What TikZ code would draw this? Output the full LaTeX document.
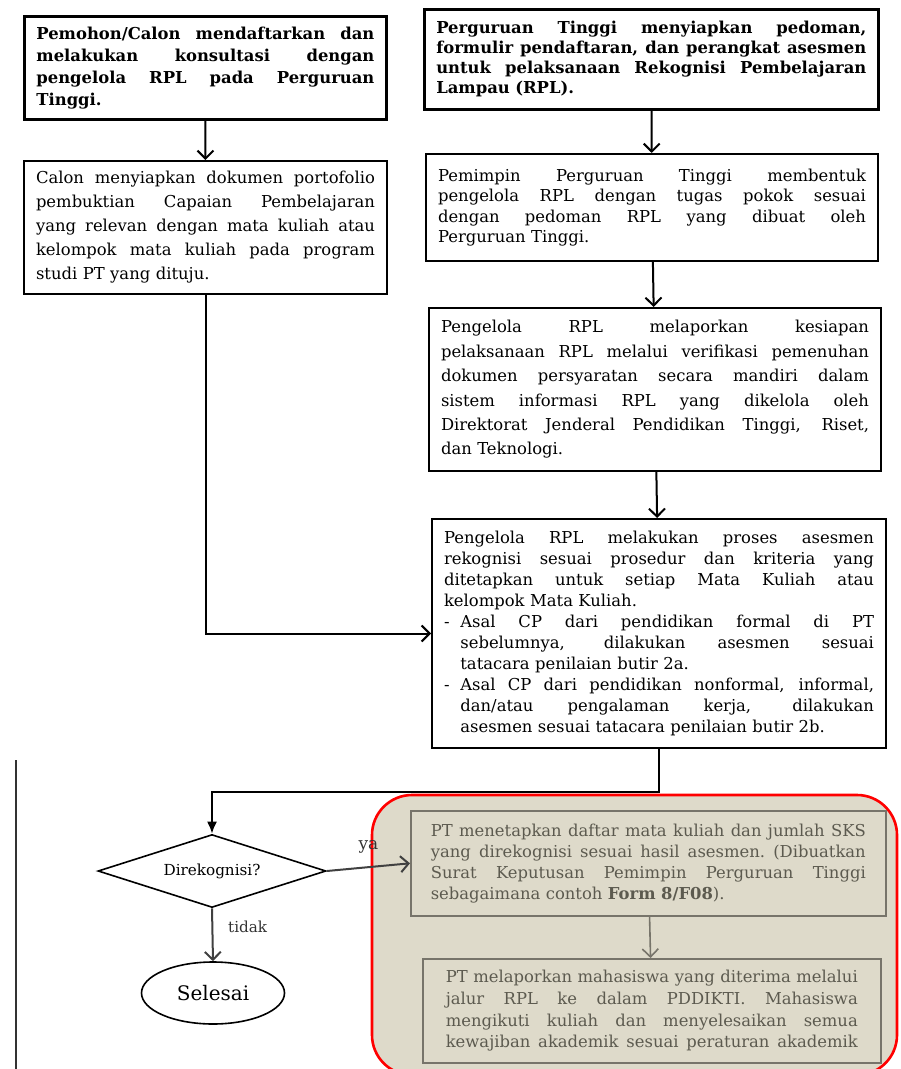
\documentclass[tikz,border=0pt]{standalone}
\usepackage{fontspec}
\setmainfont{DejaVu Serif}
\usepackage{tikz}
\usetikzlibrary{arrows.meta,positioning,shapes.geometric}
\usepackage{xcolor}
\definecolor{scanBeige}{HTML}{DEDACA}
\definecolor{scanInk}{HTML}{5C5A4F}
\definecolor{scanRule}{HTML}{77746A}
% one justified line, and one line of a dashed item
\newlength{\rowwidth}
\newcommand{\jl}[1]{{\spaceskip=0.32em plus 1fil minus 0.12em\relax\makebox[\rowwidth][s]{#1}}}
\newcommand{\dl}[2]{{\spaceskip=0.32em plus 1fil minus 0.12em\relax\makebox[1em][l]{#1}\makebox[\dimexpr\rowwidth-1em\relax][s]{#2}}}

\begin{document}
\begin{tikzpicture}[x=0.5pt, y=-0.5pt,
    every node/.style={font=\fontsize{7.6}{10}\selectfont},
    leading/.style={font=\fontsize{8.2}{#1}\selectfont},
    boldLeading/.style={font=\fontsize{8.2}{#1}\selectfont\bfseries},
    textcol/.style={text width=#1, /utils/exec={\setlength{\rowwidth}{#1}}},
    stepbox/.style={draw, line width=1pt, align=left, anchor=north west, inner xsep=6pt, inner ysep=2pt},
    paleBox/.style={stepbox, draw=scanRule, fill=scanBeige, text=scanInk, line width=0.8pt},
    flowArrow/.style={-{Straight Barb[length=4pt,width=8pt]}, line width=1pt}]

\useasboundingbox (0,0) rectangle (900,1069);
\clip (0,0) rectangle (900,1069);

% page edge and highlighted panel
\draw[line width=0.8pt, black!80] (16,760) -- (16,1069);
\draw[red, line width=1.3pt, rounded corners=20pt, fill=scanBeige] (372,795) rectangle (897,1075);

% left column
\node[stepbox, boldLeading=10.9, line width=1.4pt, textcol=169pt, minimum height=51.5pt] (regist) at (23,15) {%
\jl{Pemohon/Calon mendaftarkan dan}\\
\jl{melakukan konsultasi dengan}\\
\jl{pengelola RPL pada Perguruan}\\
Tinggi.};

\node[stepbox, leading=12, textcol=169.5pt, minimum height=66.5pt] (portfolio) at (23,160) {%
\jl{Calon menyiapkan dokumen portofolio}\\
\jl{pembuktian Capaian Pembelajaran}\\
\jl{yang relevan dengan mata kuliah atau}\\
\jl{kelompok mata kuliah pada program}\\
studi PT yang dituju.};

% right column
\node[stepbox, boldLeading=10, line width=1.3pt, textcol=215pt, minimum height=50pt] (guide) at (423,8) {%
\jl{Perguruan Tinggi menyiapkan pedoman,}\\
\jl{formulir pendaftaran, dan perangkat asesmen}\\
\jl{untuk pelaksanaan Rekognisi Pembelajaran}\\
Lampau (RPL).};

\node[stepbox, leading=10.3, textcol=214pt, minimum height=53.5pt] (manager) at (425,153) {%
\jl{Pemimpin Perguruan Tinggi membentuk}\\
\jl{pengelola RPL dengan tugas pokok sesuai}\\
\jl{dengan pedoman RPL yang dibuat oleh}\\
Perguruan Tinggi.};

\node[stepbox, leading=12.2, textcol=214pt, minimum height=81.5pt] (report) at (428,307) {%
\jl{Pengelola RPL melaporkan kesiapan}\\
\jl{pelaksanaan RPL melalui verifikasi pemenuhan}\\
\jl{dokumen persyaratan secara mandiri dalam}\\
\jl{sistem informasi RPL yang dikelola oleh}\\
\jl{Direktorat Jenderal Pendidikan Tinggi, Riset,}\\
dan Teknologi.};

\node[stepbox, leading=10.5, textcol=215pt, minimum height=114.5pt] (assess) at (431,518) {%
\jl{Pengelola RPL melakukan proses asesmen}\\
\jl{rekognisi sesuai prosedur dan kriteria yang}\\
\jl{ditetapkan untuk setiap Mata Kuliah atau}\\
kelompok Mata Kuliah.\\
\dl{-}{Asal CP dari pendidikan formal di PT}\\
\dl{}{sebelumnya, dilakukan asesmen sesuai}\\
\hspace*{1em}tatacara penilaian butir 2a.\\
\dl{-}{Asal CP dari pendidikan nonformal, informal,}\\
\dl{}{dan/atau pengalaman kerja, dilakukan}\\
\hspace*{1em}asesmen sesuai tatacara penilaian butir 2b.};

% decision
\node[diamond, draw, line width=0.8pt, shape aspect=3, inner sep=0pt,
      minimum width=114pt, minimum height=36.5pt] (decide) at (212,871) {Direkognisi?};
\node[ellipse, draw, line width=0.8pt, inner sep=0pt, minimum width=71.5pt, minimum height=31pt,
      font=\fontsize{10}{12}\selectfont] (finish) at (213,993) {Selesai};

% panel boxes
\node[paleBox, leading=10.5, textcol=217.5pt, inner xsep=10pt, minimum height=52.5pt] (decree) at (410,810) {%
\jl{PT menetapkan daftar mata kuliah dan jumlah SKS}\\
\jl{yang direkognisi sesuai hasil asesmen. (Dibuatkan}\\
\jl{Surat Keputusan Pemimpin Perguruan Tinggi}\\
sebagaimana contoh \textbf{Form 8/F08}).};

\node[paleBox, leading=10.8, textcol=206pt, inner xsep=11.5pt, minimum height=52pt] (pddikti) at (422,958) {%
\jl{PT melaporkan mahasiswa yang diterima melalui}\\
\jl{jalur RPL ke dalam PDDIKTI. Mahasiswa}\\
\jl{mengikuti kuliah dan menyelesaikan semua}\\
\jl{kewajiban akademik sesuai peraturan akademik}};

% connectors
\draw[flowArrow] (regist) -- (portfolio);
\draw[flowArrow] (guide) -- (manager);
\draw[flowArrow] (manager) -- (report);
\draw[flowArrow] (report) -- (assess);
\draw[flowArrow] (portfolio.south) |- (assess.west);
\draw[line width=1pt, -{Latex[length=6pt,width=5pt]}] (assess.south) -- ++(0,43) -| (decide.north);
\draw[flowArrow, draw=black!75] (decide.east) -- node[midway, above=3pt, font=\fontsize{8.5}{10}\selectfont, text=black!80] (yesLabel) {ya} (decree.west);
\draw[flowArrow, draw=black!75] (decide.south) -- node[midway, right=4pt, yshift=4pt, text=black!80] (noLabel) {tidak} (finish.north);
\draw[flowArrow, draw=scanRule, line width=0.8pt] (decree) -- (pddikti);

\end{tikzpicture}
\end{document}
